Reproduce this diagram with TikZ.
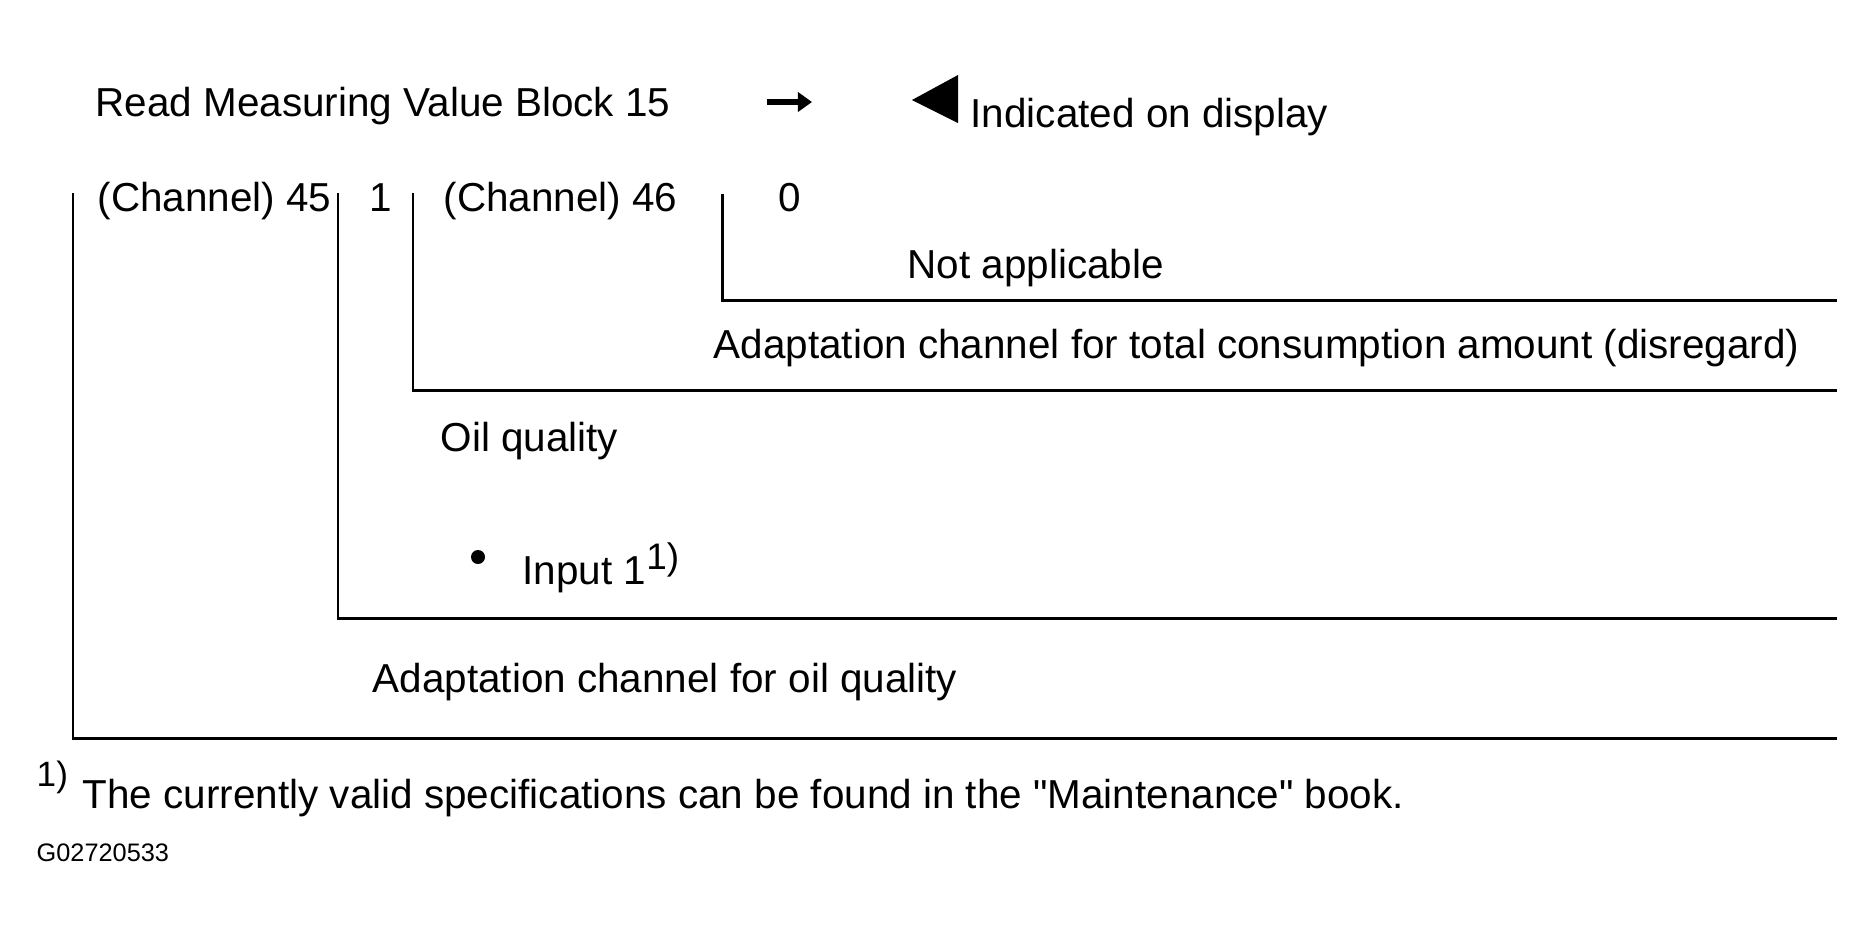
\documentclass[tikz,border=0pt]{standalone}
\usepackage{fontspec}
\setmainfont{Liberation Sans}
\usetikzlibrary{arrows.meta}

\begin{document}
\begin{tikzpicture}
[x=0.01cm,y=-0.01cm,%
  every node/.style={inner sep=0pt,anchor=base west,font=\fontsize{11.5}{14}\selectfont},%
  bracket/.style={line width=0.85pt},%
  pointer/.style={line width=1.6pt,-{Triangle[length=1.4mm,width=1.9mm]}},%
  supnum/.style={font=\fontsize{10}{12}\selectfont},%
  figno/.style={font=\fontsize{7.2}{9}\selectfont}]
\useasboundingbox (0,0) rectangle (1875,936);

% heading
\node (read) at (95,116) {Read Measuring Value Block 15};
\coordinate (ptrA) at (767,102);
\coordinate (ptrB) at (812,102);
\draw[pointer] (ptrA) -- (ptrB);
\fill (958,75) -- (958,123) -- (912,100) -- cycle;
\node (shown) at (970,127) {Indicated on display};

% channel row
\node (ch45) at (97,211) {(Channel) 45};
\node (val1) at (369,211) {1};
\node (ch46) at (443,211) {(Channel) 46};
\node (val0) at (778,211) {0};

% brackets
\coordinate (b0top) at (722,194);  \coordinate (b0end) at (1837,300);
\coordinate (b46top) at (413,193); \coordinate (b46end) at (1837,390);
\coordinate (b1top) at (338,193);  \coordinate (b1end) at (1837,618);
\coordinate (b45top) at (73,193);  \coordinate (b45end) at (1837,738);
\draw[bracket] (b0top) |- (b0end);
\draw[bracket] (b46top) |- (b46end);
\draw[bracket] (b1top) |- (b1end);
\draw[bracket] (b45top) |- (b45end);

% meanings
\node (notapp) at (907,278) {Not applicable};
\node (total) at (713,358) {Adaptation channel for total consumption amount (disregard)};
\node (oilq) at (440,451) {Oil quality};
\fill (478,557) circle (0.7mm);
\node (input) at (522,584) {Input 1\raisebox{0.35em}{\fontsize{10.5}{12}\selectfont 1)}};
\node (adapt) at (372,692) {Adaptation channel for oil quality};

% footnote
\node[supnum] (fnmark) at (36,786) {1)};
\node (fntext) at (82,808) {The currently valid specifications can be found in the \textquotedbl Maintenance\textquotedbl{} book.};
\node[figno] (fig) at (36,861) {G02720533};
\end{tikzpicture}
\end{document}
